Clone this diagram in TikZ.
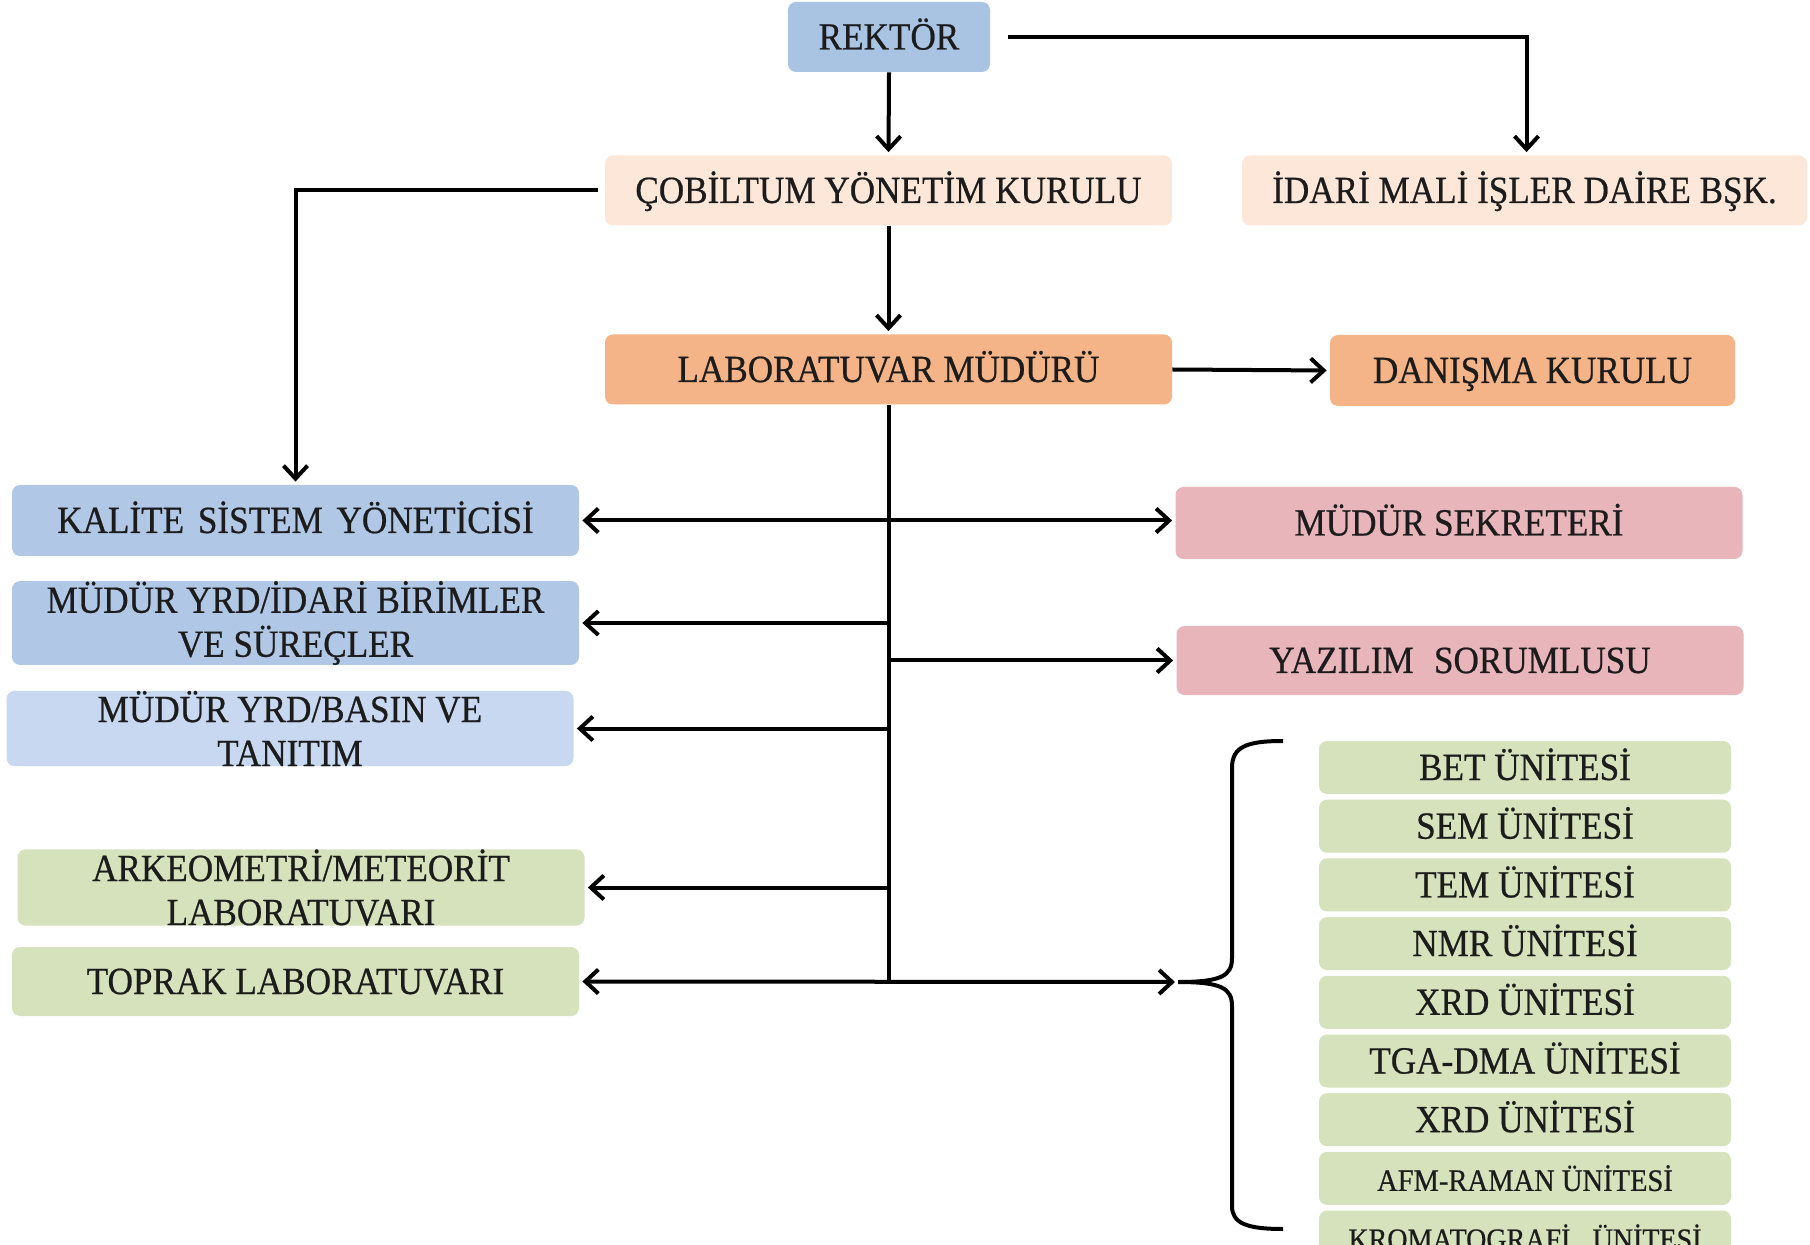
\documentclass[tikz,border=0pt]{standalone}
\usepackage{fontspec}
\setmainfont{Liberation Serif}[FakeStretch=0.915, FakeBold=0.6]
\usetikzlibrary{arrows.meta}
\definecolor{rekblue}{HTML}{A9C3E3}
\definecolor{kalblue}{HTML}{B1C7E6}
\definecolor{basblue}{HTML}{C7D8F0}
\definecolor{peach}{HTML}{FCE7D9}
\definecolor{orng}{HTML}{F5B487}
\definecolor{pinkb}{HTML}{E8B5BA}
\definecolor{grn}{HTML}{D5E2BC}
\definecolor{ink}{HTML}{1C1C1C}
\begin{document}
\begin{tikzpicture}[x=0.5pt,y=-0.5pt,
  >={Straight Barb[length=6.5pt,width=12pt]},
  box/.style={rounded corners=4pt, inner sep=0pt, align=center, text=ink,
    font=\fontsize{19.2}{22}\selectfont},
  sl/.style={text height=14pt, text depth=1.5pt},
  two/.style={font=\fontsize{19.2}{22}\selectfont},
  wide/.style={box, minimum width=283.5pt, minimum height=35pt},
  unit/.style={box, sl, fill=grn, minimum width=206pt, minimum height=26.5pt},
  arr/.style={->, line width=2pt, shorten >=1.5pt},
  darr/.style={<->, line width=2pt, shorten >=1.5pt, shorten <=1.5pt},
  ln/.style={line width=2pt}]
\fill[white] (0,0) rectangle (1810,1245);
\useasboundingbox (0,0) rectangle (1810,1245);

% top
\node[box, sl, fill=rekblue, minimum width=101pt, minimum height=35pt] (rek) at (889,37) {REKTÖR};
\node[wide, sl, fill=peach] (cob) at (888.5,190.5) {ÇOBİLTUM YÖNETİM KURULU};
\node[wide, sl, fill=peach, minimum width=282.5pt] (idari) at (1524.5,190.5) {İDARİ MALİ İŞLER DAİRE BŞK.};
\node[wide, sl, fill=orng] (lab) at (888.5,369.5) {LABORATUVAR MÜDÜRÜ};
\node[box, sl, fill=orng, minimum width=202.5pt, minimum height=35.5pt] (dan) at (1532.5,370.5) {DANIŞMA KURULU};

% left column
\node[wide, sl, fill=kalblue, minimum height=35.5pt] (kal) at (295.5,520.5) {KALİTE\hspace{.13em} SİSTEM\hspace{.13em} YÖNETİCİSİ};
\node[wide, two, fill=kalblue, minimum height=37pt] (yrda) at (295.5,623) {MÜDÜR YRD/İDARİ BİRİMLER\\VE SÜREÇLER};
\node[wide, two, fill=basblue, minimum height=35.5pt] (yrdb) at (290,728.5) {MÜDÜR YRD/BASIN VE\\TANITIM};
\node[wide, two, fill=grn, minimum height=35.5pt] (ark) at (301,887.5) {ARKEOMETRİ/METEORİT\\LABORATUVARI};
\node[wide, sl, fill=grn, minimum height=34.5pt] (top) at (295.5,981.5) {TOPRAK LABORATUVARI};

% right column
\node[wide, sl, fill=pinkb, minimum height=36pt] (sek) at (1459,523) {MÜDÜR SEKRETERİ};
\node[wide, sl, fill=pinkb, minimum height=34.5pt] (yaz) at (1460,660.5) {YAZILIM\hspace{.3em} SORUMLUSU};

% units
\node[unit] (u1) at (1525,767.5) {BET ÜNİTESİ};
\node[unit] (u2) at (1525,826.2) {SEM ÜNİTESİ};
\node[unit] (u3) at (1525,884.9) {TEM ÜNİTESİ};
\node[unit] (u4) at (1525,943.6) {NMR ÜNİTESİ};
\node[unit] (u5) at (1525,1002.3) {XRD ÜNİTESİ};
\node[unit] (u6) at (1525,1061) {TGA-DMA ÜNİTESİ};
\node[unit] (u7) at (1525,1119.7) {XRD ÜNİTESİ};
\node[unit, font=\fontsize{15.6}{18}\selectfont] (u8) at (1525,1178.4) {AFM-RAMAN ÜNİTESİ};
\node[unit, font=\fontsize{15.3}{18}\selectfont] (u9) at (1525,1237.1) {KROMATOGRAFİ\hspace{.5em} ÜNİTESİ};

% brace
\coordinate (bt) at (1178,982);
\draw[ln] (1283,741) .. controls (1246,741) and (1232,747) .. (1232,768)
  -- (1232,958) .. controls (1232,976) and (1221,982) .. (bt)
  .. controls (1221,982) and (1232,988) .. (1232,1006)
  -- (1232,1206) .. controls (1232,1223) and (1246,1229) .. (1283,1229);

% connectors
\draw[arr] (rek.south) -- (cob.north);
\draw[arr] ([xshift=9pt]rek.east) -| ([xshift=1pt]idari.north);
\draw[arr] ([xshift=-3.5pt]cob.west) -| (kal.north);
\draw[arr] (cob.south) -- (lab.north);
\draw[arr] (lab.east) -- (dan.west);
\draw[ln] (lab.south) -- (lab.south |- top.east);
\draw[darr] (kal.east) -- (kal.east -| sek.west);
\draw[arr] (lab.south |- yrda.east) -- (yrda.east);
\draw[arr] (lab.south |- yaz.west) -- (yaz.west);
\draw[arr] (lab.south |- yrdb.east) -- (yrdb.east);
\draw[arr] (lab.south |- ark.east) -- (ark.east);
\draw[darr] (top.east) -- (bt);
\end{tikzpicture}
\end{document}
